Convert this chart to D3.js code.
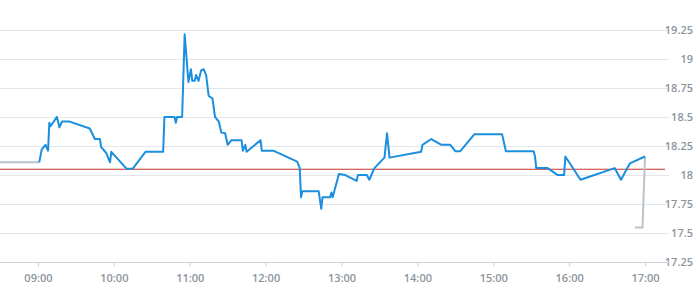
<!DOCTYPE html>
<html><head><meta charset="utf-8">
<script src="https://cdn.jsdelivr.net/npm/d3@7"></script>
<style>
html,body{margin:0;padding:0;background:#fff;}
svg{display:block;}
text{font-family:"Open Sans",sans-serif;font-weight:600;fill:#8c949d;font-size:11px;}
</style></head><body>
<svg id="chart" width="695" height="300"></svg>
<script>
const priceTimes = ["09:01","09:03","09:06","09:08","09:09","09:10","09:15","09:17","09:19","09:25","09:41","09:45","09:49","09:50","09:54","09:57","09:58","10:10","10:15","10:25","10:39","10:40","10:48","10:49","10:50","10:54","10:56","10:59","11:01","11:02","11:04","11:05","11:07","11:09","11:11","11:13","11:15","11:18","11:20","11:23","11:25","11:28","11:30","11:33","11:41","11:42","11:44","11:45","11:56","11:57","12:06","12:25","12:27","12:28","12:29","12:42","12:44","12:45","12:51","12:52","12:53","12:58","13:03","13:12","13:13","13:20","13:22","13:26","13:34","13:36","13:38","14:03","14:04","14:11","14:19","14:26","14:30","14:34","14:45","15:07","15:10","15:32","15:33","15:34","15:43","15:51","15:56","15:57","16:09","16:36","16:41","16:48","17:00"];
const priceValues = [18.11,18.22,18.26,18.21,18.45,18.42,18.50,18.41,18.46,18.46,18.40,18.31,18.31,18.24,18.19,18.11,18.20,18.055,18.055,18.20,18.20,18.50,18.50,18.45,18.50,18.50,19.21,18.80,18.91,18.81,18.81,18.86,18.81,18.90,18.91,18.86,18.68,18.66,18.50,18.46,18.365,18.36,18.26,18.30,18.30,18.21,18.26,18.20,18.30,18.21,18.21,18.115,18.06,17.81,17.86,17.86,17.71,17.81,17.81,17.85,17.81,18.01,18.0,17.95,18.0,18.0,17.96,18.06,18.15,18.36,18.15,18.20,18.26,18.31,18.26,18.26,18.205,18.205,18.35,18.35,18.205,18.205,18.16,18.06,18.06,18.0,18.0,18.16,17.96,18.06,17.96,18.10,18.16];
const preTimes = ["08:30","09:01"];
const preValues = [18.11,18.11];
const postTimes = ["17:00","16:58","16:52"];
const postValues = [18.16,17.55,17.55];
const refValue = 18.05;
const yTicks = [17.25,17.5,17.75,18,18.25,18.5,18.75,19,19.25];
const xTickLabels = ["09:00","10:00","11:00","12:00","13:00","14:00","15:00","16:00","17:00"];

const parse = d3.timeParse("%H:%M");
const svg = d3.select("#chart");
const mLeft = 0, mRight = 665, mTop = 29.7, mBottom = 262.3;
const x = d3.scaleTime().domain([parse("08:30"), new Date(parse("17:00").getTime() + 15.8*60000)]).range([mLeft, mRight]);
const y = d3.scaleLinear().domain([17.25, 19.25]).range([mBottom, mTop]);

// grid lines
svg.append("g").selectAll("line").data(yTicks.slice(1)).join("line")
  .attr("x1", mLeft).attr("x2", mRight + 4)
  .attr("y1", d => Math.round(y(d)) + 0.5).attr("y2", d => Math.round(y(d)) + 0.5)
  .attr("stroke", "#e3e6ea").attr("stroke-width", 1);

const yAxis = d3.axisRight(y).tickValues(yTicks).tickSize(0).tickFormat(d => String(d));
const gy = svg.append("g").attr("transform", "translate(693,0)").call(yAxis);
gy.select(".domain").remove();
gy.attr("font-family", null).attr("font-size", null);
gy.selectAll("text").attr("x", 0).attr("text-anchor", "end").attr("dy", "0.3em");

// x axis
const xTickDates = xTickLabels.map(parse);
const xAxis = d3.axisBottom(x).tickValues(xTickDates).tickSize(4).tickPadding(6).tickFormat(d3.timeFormat("%H:%M"));
const gx = svg.append("g").attr("transform", `translate(0,${Math.round(mBottom)+0.5})`).call(xAxis);
gx.attr("font-family", null).attr("font-size", null);
gx.select(".domain").attr("stroke", "#ccd3dc").attr("d", `M${mLeft},0H${mRight+4}`);
gx.selectAll(".tick line").attr("stroke", "#ccd3dc");
gx.selectAll("text").attr("dy", "0.9em");

// reference line
svg.append("line").attr("x1", mLeft).attr("x2", mRight)
  .attr("y1", y(refValue)).attr("y2", y(refValue))
  .attr("stroke", "#c9302c").attr("stroke-width", 1);

const line = d3.line().x(d => x(parse(d[0]))).y(d => y(d[1]));
svg.append("path").datum(d3.zip(preTimes, preValues)).attr("d", line)
  .attr("fill", "none").attr("stroke", "#b9c3cc").attr("stroke-width", 2);
svg.append("path").datum(d3.zip(postTimes, postValues)).attr("d", line)
  .attr("fill", "none").attr("stroke", "#b9c3cc").attr("stroke-width", 2);
svg.append("path").datum(d3.zip(priceTimes, priceValues)).attr("d", line)
  .attr("fill", "none").attr("stroke", "#1a8fe0").attr("stroke-width", 2).attr("stroke-linejoin", "round");
</script>
</body></html>
